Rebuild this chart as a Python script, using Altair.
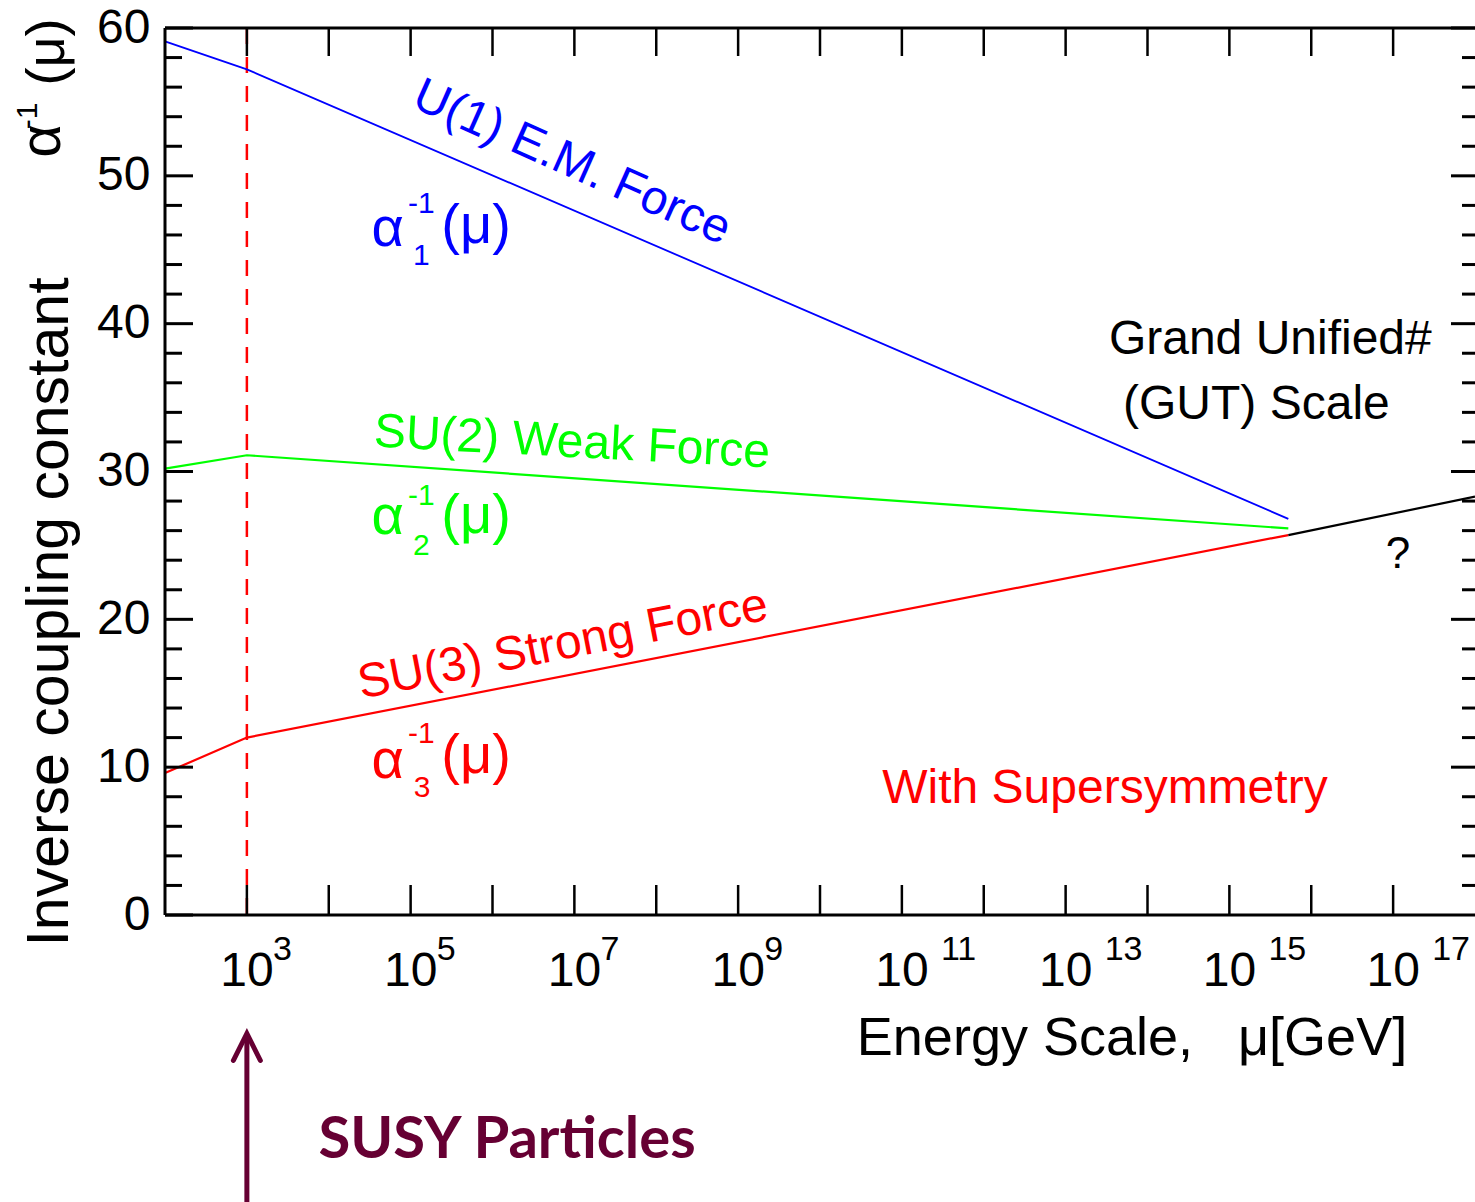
import altair as alt
import pandas as pd

# ---------------- data ----------------
BREAK_EXP = [2.0, 3.0, 15.72]          # log10(mu / GeV) at the line breakpoints
U1_INV = [59.1, 57.2, 26.8]             # alpha_1^-1
SU2_INV = [30.2, 31.1, 26.15]           # alpha_2^-1
SU3_INV = [9.6, 12.0, 25.7]             # alpha_3^-1
GUT_EXP = [15.72, 18.0]
GUT_INV = [25.7, 28.3]
SUSY_EXP = 3.0                           # SUSY threshold, 10^3 GeV
Y_MAJOR = [0, 10, 20, 30, 40, 50, 60]
Y_MINOR = [2, 4, 6, 8, 12, 14, 16, 18, 22, 24, 26, 28, 32, 34, 36, 38,
           42, 44, 46, 48, 52, 54, 56, 58]
X_TICK_EXP = [3, 4, 5, 6, 7, 8, 9, 10, 11, 12, 13, 14, 15, 16, 17]
X_LABEL_EXP = [3, 5, 7, 9, 11, 13, 15, 17]

# annotations: text, log10(x), y, colour, font size, angle
LABELS = [
    ("U(1) E.M. Force", 6.97, 50.87, "#0000ff", 48, 24),
    ("SU(2) Weak Force", 6.97, 31.93, "#00ff00", 48, 3),
    ("SU(3) Strong Force", 6.86, 18.26, "#ff0000", 48, 349),
    ("Grand Unified#", 15.50, 38.9, "#000000", 48, 0),
    ("(GUT) Scale", 15.33, 34.5, "#000000", 48, 0),
    ("?", 17.06, 24.35, "#000000", 44, 0),
    ("With Supersymmetry", 13.48, 8.5, "#ff0000", 48, 0),
]
# alpha_i^-1(mu) groups: colour, subscript, (x,y) of alpha, sup, sub, paren
ALPHAS = [
    ("#0000ff", "1", (4.72, 46.4), (5.13, 48.1), (5.13, 44.6), (5.80, 46.61)),
    ("#00ff00", "2", (4.72, 26.92), (5.13, 28.35), (5.13, 24.95), (5.80, 26.99)),
    ("#ff0000", "3", (4.72, 10.41), (5.13, 12.25), (5.14, 8.58), (5.80, 10.76)),
]

FONT = "Liberation Sans"
W, H = 1310, 887
PAD = {"left": 165, "top": 28, "right": 0, "bottom": 1202 - 28 - 887}

xs = alt.Scale(type="log", domain=[1e2, 1e18])
ys = alt.Scale(domain=[0, 60], nice=False, zero=False)
Y_AXIS = alt.Axis(values=Y_MAJOR, ticks=False, tickSize=0, domain=False, grid=False,
                  labelFontSize=48, labelFont=FONT, labelPadding=15, labelColor="black",
                  title=None, labelFlush=False)


def X(f="e"):
    return alt.X(f"{f}:Q", scale=xs, axis=None)


def Y(f="v"):
    return alt.Y(f"{f}:Q", scale=ys, axis=Y_AXIS)


layers = []

# dashed SUSY threshold line
layers.append(
    alt.Chart(pd.DataFrame({"e": [10 ** SUSY_EXP], "v": [60], "v2": [0]}))
    .mark_rule(color="#ff0000", strokeWidth=2.5, strokeDash=[16, 13])
    .encode(x=X(), y=Y(), y2="v2:Q")
)

# coupling lines
for vals, col, sw in [(U1_INV, "#0000ff", 1.8), (SU2_INV, "#00ff00", 2.2),
                      (SU3_INV, "#ff0000", 2.2)]:
    df = pd.DataFrame({"e": [10 ** e for e in BREAK_EXP], "v": vals})
    layers.append(alt.Chart(df).mark_line(color=col, strokeWidth=sw).encode(x=X(), y=Y()))
df = pd.DataFrame({"e": [10 ** e for e in GUT_EXP], "v": GUT_INV})
layers.append(alt.Chart(df).mark_line(color="black", strokeWidth=2.2).encode(x=X(), y=Y()))

# frame (left, top, bottom)
layers.append(
    alt.Chart(pd.DataFrame({"e": [1e2, 1e2], "e2": [1e18, 1e18], "v": [0, 60]}))
    .mark_rule(color="black", strokeWidth=3).encode(x=X(), x2="e2:Q", y=Y())
)
layers.append(
    alt.Chart(pd.DataFrame({"e": [1e2], "v": [0], "v2": [60]}))
    .mark_rule(color="black", strokeWidth=3).encode(x=X(), y=Y(), y2="v2:Q")
)

# inward ticks on y sides
ymaj = pd.DataFrame({"v": Y_MAJOR})
ymin = pd.DataFrame({"v": Y_MINOR})
layers.append(alt.Chart(ymaj).mark_rule(color="black", strokeWidth=3)
              .encode(y=Y(), x=alt.value(0), x2=alt.value(28)))
layers.append(alt.Chart(ymin).mark_rule(color="black", strokeWidth=3)
              .encode(y=Y(), x=alt.value(0), x2=alt.value(17)))
layers.append(alt.Chart(ymaj[ymaj.v > 0]).mark_rule(color="black", strokeWidth=3)
              .encode(y=Y(), x=alt.value(W), x2=alt.value(W - 24)))
layers.append(alt.Chart(ymin).mark_rule(color="black", strokeWidth=3)
              .encode(y=Y(), x=alt.value(W), x2=alt.value(W - 13)))

# inward ticks on x sides
xt = pd.DataFrame({"e": [10 ** k for k in X_TICK_EXP]})
layers.append(alt.Chart(xt).mark_rule(color="black", strokeWidth=2.5)
              .encode(x=X(), y=alt.value(0), y2=alt.value(28)))
layers.append(alt.Chart(xt).mark_rule(color="black", strokeWidth=2.5)
              .encode(x=X(), y=alt.value(H), y2=alt.value(H - 30)))

# x tick labels 10^k
xl = pd.DataFrame({"e": [10 ** k for k in X_LABEL_EXP], "k": [str(k) for k in X_LABEL_EXP]})
layers.append(alt.Chart(xl).mark_text(text="10", fontSize=48, font=FONT, color="black",
                                      align="center", baseline="middle")
              .encode(x=X(), y=alt.value(H + 57)))
xl1 = xl[xl.k.str.len() == 1]
xl2 = xl[xl.k.str.len() == 2]
layers.append(alt.Chart(xl1).mark_text(fontSize=34, font=FONT, color="black", align="left",
                                       baseline="middle", dx=26)
              .encode(x=X(), y=alt.value(H + 35), text="k:N"))
layers.append(alt.Chart(xl2).mark_text(fontSize=34, font=FONT, color="black", align="left",
                                       baseline="middle", dx=39)
              .encode(x=X(), y=alt.value(H + 35), text="k:N"))

# annotations
for txt, ex, yv, col, fs, ang in LABELS:
    layers.append(
        alt.Chart(pd.DataFrame({"e": [10 ** ex], "v": [yv], "t": [txt]}))
        .mark_text(fontSize=fs, font=FONT, color=col, align="center", baseline="middle", angle=ang)
        .encode(x=X(), y=Y(), text="t:N")
    )

for col, sub, pa, ps, pb, pp in ALPHAS:
    for txt, (ex, yv), fs in [("α", pa, 56), ("-1", ps, 30), (sub, pb, 30), ("(μ)", pp, 56)]:
        layers.append(
            alt.Chart(pd.DataFrame({"e": [10 ** ex], "v": [yv], "t": [txt]}))
            .mark_text(fontSize=fs, font=FONT, color=col, align="center", baseline="middle")
            .encode(x=X(), y=Y(), text="t:N")
        )

# y title (rotated)
for txt, px, py, fs in [("Inverse coupling constant", -115, 584, 59),
                        ("α", -122, 113, 58), ("-1", -137, 88, 30), ("(μ)", -117, 24, 54)]:
    layers.append(
        alt.Chart(pd.DataFrame({"t": [txt]}))
        .mark_text(fontSize=fs, font=FONT, color="black", align="center", baseline="middle", angle=270)
        .encode(x=alt.value(px), y=alt.value(py), text="t:N")
    )

# x title
layers.append(
    alt.Chart(pd.DataFrame({"t": ["Energy Scale,\u00a0\u00a0\u00a0μ[GeV]"]}))
    .mark_text(fontSize=54, font=FONT, color="black", align="center", baseline="middle")
    .encode(x=alt.value(967), y=alt.value(1011), text="t:N")
)

# SUSY particles arrow + label
susy = pd.DataFrame({"e": [10 ** SUSY_EXP]})
layers.append(alt.Chart(susy).mark_rule(color="#660033", strokeWidth=5)
              .encode(x=X(), y=alt.value(H + PAD["bottom"] + 2), y2=alt.value(1007)))
layers.append(alt.Chart(susy).mark_point(shape="M-1,1L0,-1L1,1", size=729, filled=False,
                                         color="#660033", strokeWidth=5, strokeCap="round",
                                         opacity=1)
              .encode(x=X(), y=alt.value(1019)))
layers.append(
    alt.Chart(pd.DataFrame({"t": ["SUSY Particles"]}))
    .mark_text(fontSize=58, font="Lato", fontWeight="bold", color="#660033",
               align="center", baseline="middle")
    .encode(x=alt.value(342), y=alt.value(1113), text="t:N")
)

chart = (
    alt.layer(*layers)
    .properties(width=W, height=H, autosize=alt.AutoSizeParams(type="none"), padding=PAD,
                background="white")
    .configure_view(stroke=None)
)

chart.save("out.html", embed_options={"renderer": "svg", "actions": False})
